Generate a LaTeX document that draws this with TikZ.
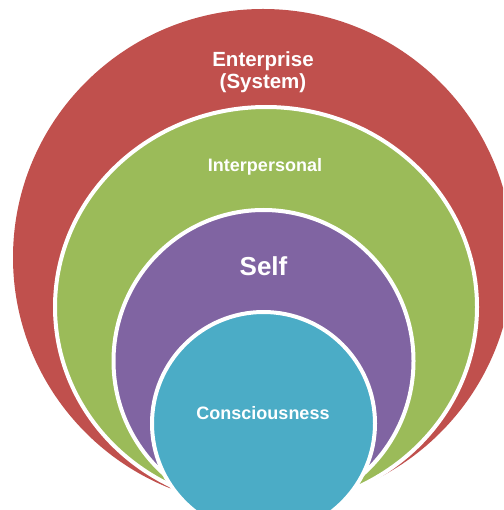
\documentclass[tikz,border=0pt]{standalone}
\usepackage{fontspec}
\setmainfont{Liberation Sans}
\definecolor{redc}{HTML}{C0504D}
\definecolor{greenc}{HTML}{9BBB59}
\definecolor{purplec}{HTML}{8064A2}
\definecolor{tealc}{HTML}{4BACC6}
\begin{document}
\begin{tikzpicture}[x=1pt,y=-1pt,
  ring/.style={draw=white,line width=4pt},
  lbl/.style={text=white,font=\bfseries,align=center,inner sep=0pt}]
\useasboundingbox (0,0) rectangle (503,510);
\clip (0,0) rectangle (503,510);
\fill[redc] (263,257.5) ellipse [x radius=250pt, y radius=248.5pt];
\filldraw[ring,fill=greenc] (266,307) ellipse [x radius=211pt, y radius=200pt];
\filldraw[ring,fill=purplec] (263.5,361) ellipse [x radius=150pt, y radius=151pt];
\filldraw[ring,fill=tealc] (263.5,423.5) circle [radius=111.5pt];
\node[lbl,font=\bfseries\fontsize{20.5}{22}\selectfont] (ent) at (263,72) {Enterprise\\(System)};
\node[lbl,font=\bfseries\fontsize{18}{20}\selectfont] (inter) at (265,167) {Interpersonal};
\node[lbl,font=\bfseries\fontsize{26}{28}\selectfont] (self) at (263.5,266) {Self};
\node[lbl,font=\bfseries\fontsize{18}{20}\selectfont] (cons) at (263,413) {Consciousness};
\end{tikzpicture}
\end{document}
